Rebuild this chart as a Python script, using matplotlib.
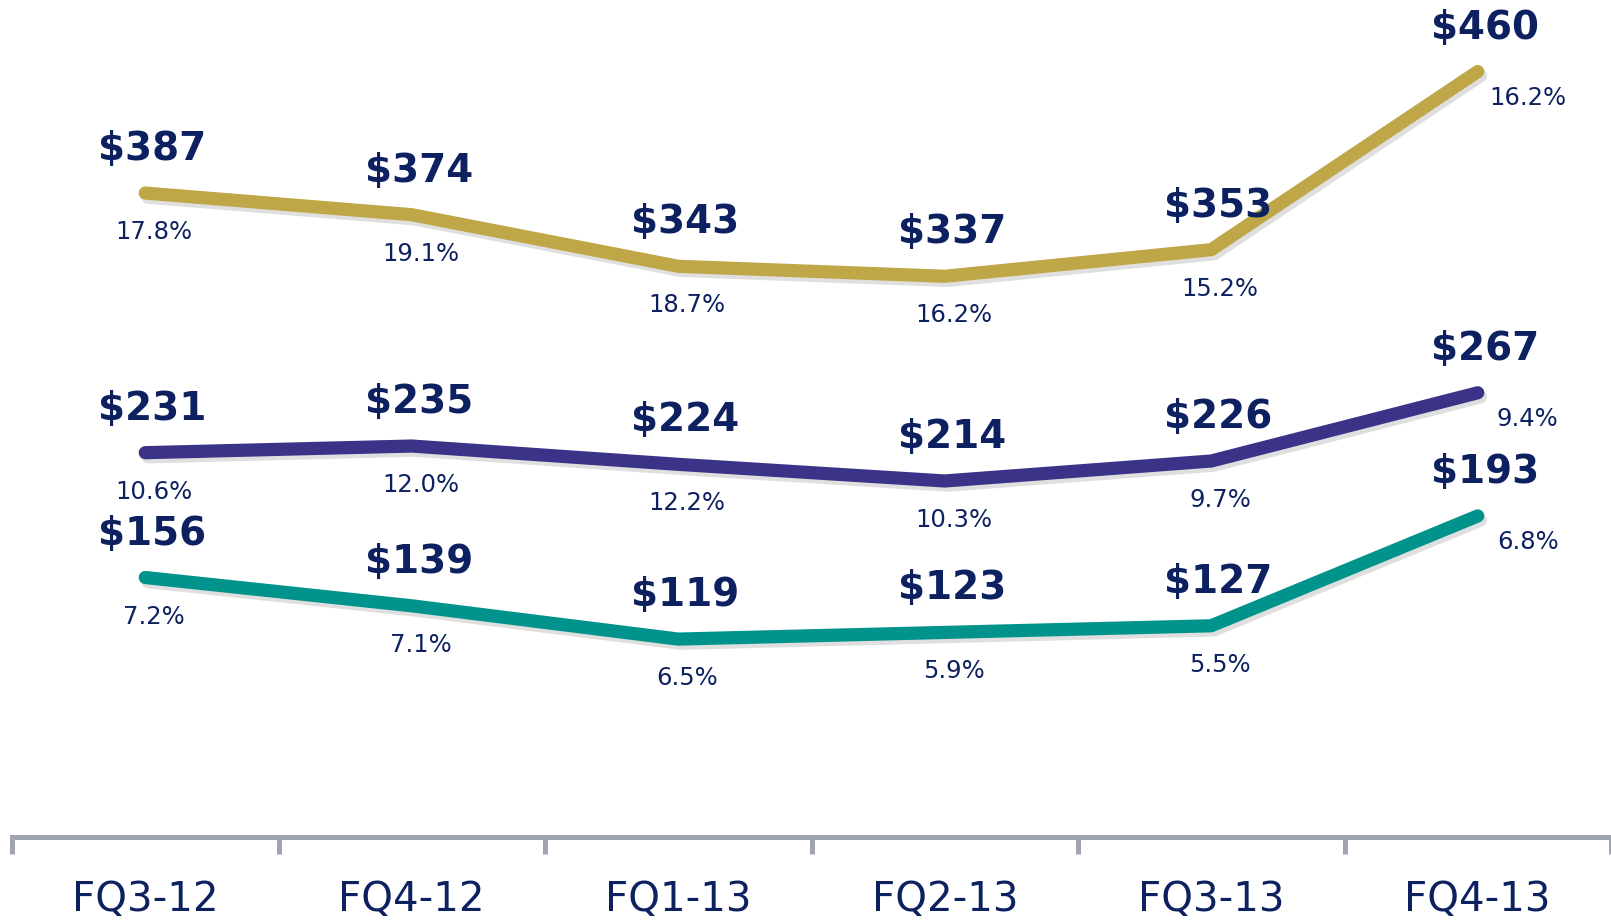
import matplotlib
matplotlib.use("Agg")
from matplotlib import pyplot as plt
import matplotlib.patheffects as pe

quarters = ["FQ3-12", "FQ4-12", "FQ1-13", "FQ2-13", "FQ3-13", "FQ4-13"]

gold_vals = [387, 374, 343, 337, 353, 460]
gold_pcts = ["17.8%", "19.1%", "18.7%", "16.2%", "15.2%", "16.2%"]
purple_vals = [231, 235, 224, 214, 226, 267]
purple_pcts = ["10.6%", "12.0%", "12.2%", "10.3%", "9.7%", "9.4%"]
teal_vals = [156, 139, 119, 123, 127, 193]
teal_pcts = ["7.2%", "7.1%", "6.5%", "5.9%", "5.5%", "6.8%"]

navy = "#0D2160"
series = [
    (gold_vals, gold_pcts, "#BFA647"),
    (purple_vals, purple_pcts, "#3A3388"),
    (teal_vals, teal_pcts, "#00938C"),
]

fig = plt.figure(figsize=(16.11, 9.24), dpi=100)
ax = fig.add_axes([12 / 1611, 0.094, 1 - 12 / 1611, 0.906])

x = list(range(len(quarters)))
for vals, pcts, color in series:
    ax.plot(x, vals, color=color, lw=9.5, solid_capstyle="round", solid_joinstyle="round",
            path_effects=[pe.SimpleLineShadow(offset=(2, -3), alpha=0.25, shadow_color="gray"),
                          pe.Normal()])
    for i, (v, p) in enumerate(zip(vals, pcts)):
        ax.annotate(f"${v}", (i, v), xytext=(7, 44), textcoords="offset pixels",
                    ha="center", va="center", fontsize=28, fontweight="bold", color=navy)
        if i == len(vals) - 1:
            off = (50, -26)
        else:
            off = (9, -39)
        ax.annotate(p, (i, v), xytext=off, textcoords="offset pixels",
                    ha="center", va="center", fontsize=17.5, color=navy)

ax.set_xlim(-0.5, 5.5)
ax.set_ylim(0, 503)
for s in ["top", "left", "right"]:
    ax.spines[s].set_visible(False)
ax.spines["bottom"].set_color("#A0A4B0")
ax.spines["bottom"].set_linewidth(3.6)
ax.set_yticks([])
ax.set_xticks([i - 0.5 for i in range(len(quarters) + 1)])
ax.set_xticklabels([])
ax.tick_params(axis="x", which="major", length=12, width=3.6, color="#A0A4B0")
ax.set_xticks(x, minor=True)
ax.set_xticklabels(quarters, minor=True)
ax.tick_params(axis="x", which="minor", length=0, pad=31, labelsize=29, labelcolor=navy)

fig.savefig("out.png", dpi=100)
